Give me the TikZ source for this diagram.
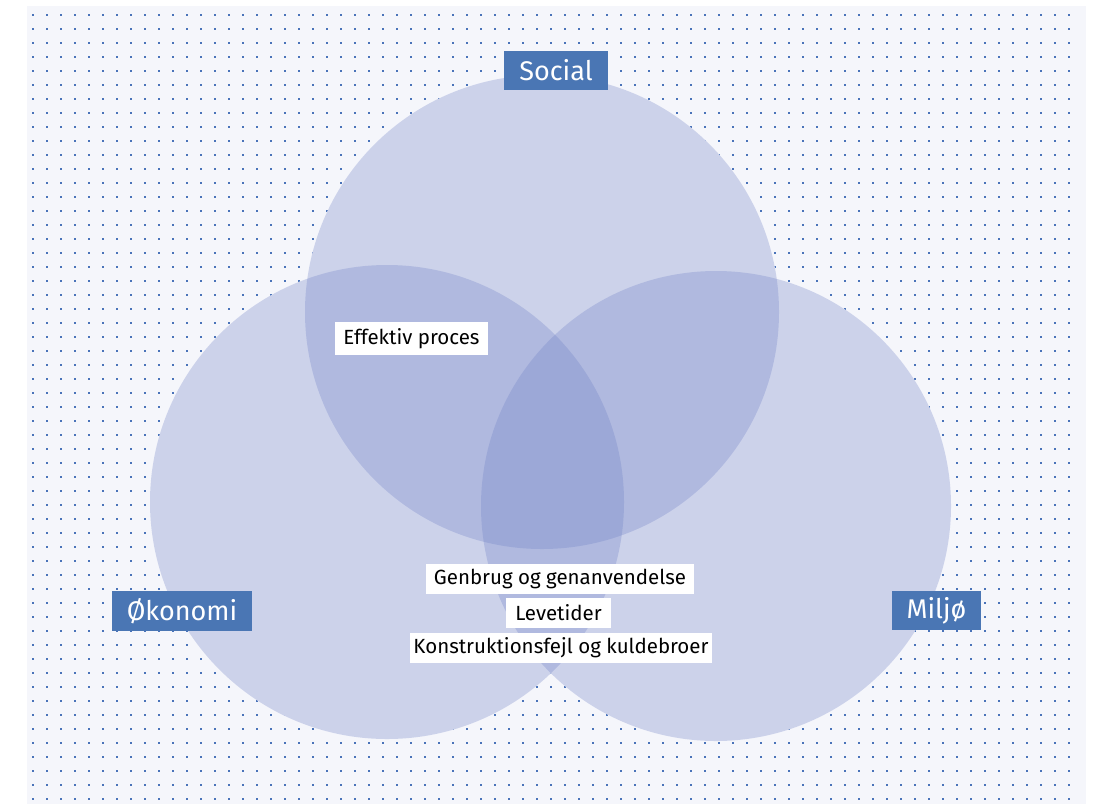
\documentclass[tikz,border=0pt]{standalone}
\usepackage{fontspec}
\setmainfont{Fira Sans}
\usepackage{tikz}
\definecolor{panelbg}{RGB}{245,246,251}
\definecolor{dotblue}{RGB}{74,115,185}
\definecolor{labelblue}{RGB}{74,118,180}
\definecolor{circlefill}{RGB}{112,129,198}

\begin{document}
\begin{tikzpicture}[x=1pt, y=-1pt]
      \tikzstyle{ring} = [circle, inner sep=0pt, fill=circlefill, fill opacity=0.3]
      \tikzstyle{title} = [rectangle, fill=labelblue, text=white, inner sep=0pt, minimum height=39pt, font=\fontsize{27}{30}\selectfont]
      \tikzstyle{item} = [rectangle, fill=white, text=black, inner sep=0pt, minimum height=30pt, font=\fontsize{20.5}{24}\selectfont]

      \useasboundingbox (0,0) rectangle (1094,804);
      \fill[panelbg] (27,6) rectangle (1086,804);

      % dotted grid
      \foreach \i in {0, ..., 74}
       {
         \foreach \j in {0, ..., 56}
            \fill[dotblue] (33+14*\i-1.1, 14.7+14*\j-1.1) rectangle ++(2.2,2.2);
       }

      % base under the circles
      \fill[panelbg] (542,312) circle (237) (387,502) circle (237) (716,506) circle (235);

      \node[ring, minimum size=474pt] (social) at (542,312) {};
      \node[ring, minimum size=474pt] (oekonomi) at (387,502) {};
      \node[ring, minimum size=470pt] (miljo) at (716,506) {};

      \node[title, minimum width=104pt] (social-lbl) at (556,70.5) {Social};
      \node[title, minimum width=140pt, minimum height=40pt] (oekonomi-lbl) at (182,611) {Økonomi};
      \node[title, minimum width=89pt] (miljo-lbl) at (936.5,610.5) {Miljø};

      \node[item, minimum width=153pt, minimum height=33pt] (proces) at (411.5,338.5) {Effektiv proces};
      \node[item, minimum width=268pt] (genbrug) at (560,579) {Genbrug og genanvendelse};
      \node[item, minimum width=105pt] (levetid) at (558.5,613) {Levetider};
      \node[item, minimum width=302pt] (konstr) at (561,648) {Konstruktionsfejl og kuldebroer};
\end{tikzpicture}
\end{document}
